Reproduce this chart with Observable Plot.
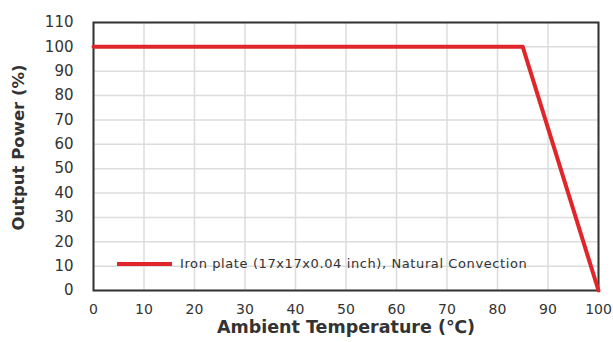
<!DOCTYPE html>
<html><head><meta charset="utf-8">
<script src="https://cdn.jsdelivr.net/npm/d3@7"></script>
<script src="https://cdn.jsdelivr.net/npm/@observablehq/plot@0.6"></script>
<style>
body{margin:0;background:#fff;font-family:"DejaVu Sans",sans-serif;}
#wrap{position:relative;width:613px;height:342px;}
#legend{position:absolute;left:117px;top:256px;display:flex;align-items:center;font-size:13px;letter-spacing:0.6px;color:#333;}
#legend span.sw{display:inline-block;width:55px;height:4px;background:#e0262b;margin-right:8px;}
</style></head>
<body><div id="wrap"><div id="legend"><span class="sw"></span><span id="ltext"></span></div></div>
<script>
const temperature = [0, 85, 100];
const outputPower = [100, 100, 0];
const xTicks = [0,10,20,30,40,50,60,70,80,90,100];
const yTicks = [0,10,20,30,40,50,60,70,80,90,100,110];
const seriesName = "Iron plate (17x17x0.04 inch), Natural Convection";
const data = temperature.map((t,i)=>({t, p: outputPower[i]}));
document.getElementById("ltext").textContent = seriesName;
const chart = Plot.plot({
  width: 613, height: 342,
  marginLeft: 93, marginRight: 15, marginTop: 22, marginBottom: 52,
  style: {fontFamily: '"DejaVu Sans", sans-serif', fontSize: "15px", color: "#333"},
  x: {domain: [0,100]},
  y: {domain: [0,110]},
  marks: [
    Plot.ruleX(xTicks, {stroke: "#dcdcdc", strokeWidth: 1.5}),
    Plot.ruleY(yTicks, {stroke: "#dcdcdc", strokeWidth: 1.5}),
    Plot.frame({stroke: "#333", strokeWidth: 2}),
    Plot.axisX({ticks: xTicks, tickSize: 0, tickPadding: 14, fontSize: 14, label: null}),
    Plot.axisY({ticks: yTicks, tickSize: 0, tickPadding: 20, fontSize: 15, label: null}),
    Plot.line(data, {x: "t", y: "p", stroke: "#e0262b", strokeWidth: 4}),
    Plot.text(["Ambient Temperature (℃)"], {frameAnchor: "bottom", dy: 42, fontSize: 17.5, fontWeight: "bold", fill: "#333"}),
    Plot.text(["Output Power (%)"], {frameAnchor: "left", textAnchor: "middle", dx: -75, dy: -9, rotate: -90, fontSize: 16.5, fontWeight: "bold", fill: "#333"})
  ]
});
document.getElementById("wrap").prepend(chart);
</script></body></html>
